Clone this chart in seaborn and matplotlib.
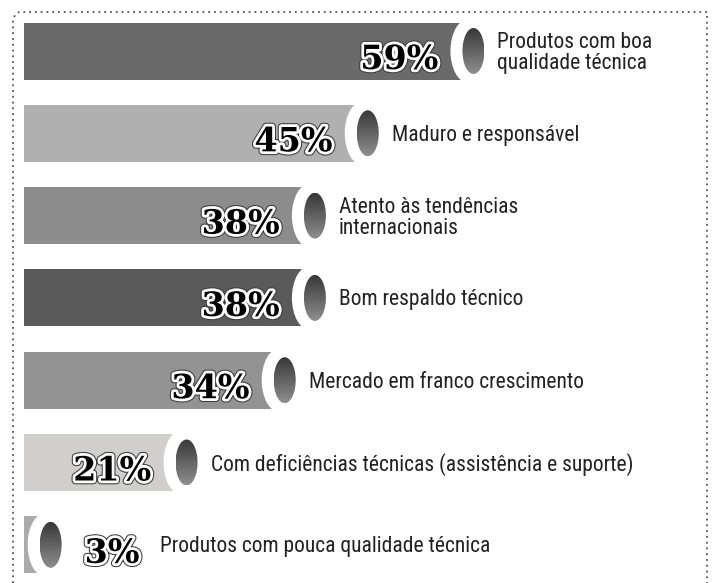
import matplotlib
matplotlib.use('Agg')
import matplotlib.pyplot as plt
import matplotlib.patheffects as pe
from matplotlib.patches import Ellipse
import seaborn as sns
import numpy as np

sns.set_theme(style='white')
plt.rcParams['font.family'] = ['Roboto Condensed', 'Liberation Sans', 'DejaVu Sans']

labels = ['Produtos com boa\nqualidade técnica',
          'Maduro e responsável',
          'Atento às tendências\ninternacionais',
          'Bom respaldo técnico',
          'Mercado em franco crescimento',
          'Com deficiências técnicas (assistência e suporte)',
          'Produtos com pouca qualidade técnica']
values = [59, 45, 38, 38, 34, 21, 3]
bar_colors = ['#6a6a6a', '#b0b0b0', '#8c8c8c', '#5a5a5a', '#939393', '#d0cfcd', '#ababab']

# pixel scale of the layout (715x583 figure)
PX_X = 7.55   # px per percent
PX_Y = 82.3   # px per row
X0 = 24       # px where 0% sits
Y0 = 51       # px of first row centre

fig = plt.figure(figsize=(7.15, 5.83), dpi=100)
ax = fig.add_axes([0, 0, 1, 1])

sns.barplot(x=values, y=list(range(len(values))), hue=list(range(len(values))),
            palette=bar_colors, orient='h', width=57 / PX_Y, legend=False,
            saturation=1, ax=ax, linewidth=0)

# gradient for the end caps
grad = np.linspace(0, 1, 64).reshape(-1, 1)
cap_cmap = matplotlib.colors.LinearSegmentedColormap.from_list('cap', ['#383838', '#8e8e8e'])

outline = [pe.Stroke(linewidth=5.5, foreground='#3c3c3c'),
           pe.Stroke(linewidth=4, foreground='white'),
           pe.Normal()]

for i, (v, lab) in enumerate(zip(values, labels)):
    # white ring
    ring = Ellipse((v - 1 / PX_X, i), 36 / PX_X, 64 / PX_Y, facecolor='white',
                   edgecolor='none', zorder=3)
    ax.add_patch(ring)
    # dark inner cap with vertical gradient
    cx = v + 4 / PX_X
    w, h = 22 / PX_X, 46 / PX_Y
    inner = Ellipse((cx, i), w, h, facecolor='none', edgecolor='none', zorder=4)
    ax.add_patch(inner)
    im = ax.imshow(grad, cmap=cap_cmap, aspect='auto', zorder=4,
                   extent=(cx - w / 2, cx + w / 2, i + h / 2, i - h / 2))
    im.set_clip_path(inner)

    if v >= 10:
        ax.text(v - 31 / PX_X, i + 18 / PX_Y, f'{v}%', ha='right', va='baseline',
                fontsize=24, fontweight='bold', family='DejaVu Serif', color='black',
                path_effects=outline, zorder=5)
        ax.text(v + 28 / PX_X, i + 2 / PX_Y, lab, ha='left', va='center', fontsize=15.5,
                color='#222222', linespacing=1.0, zorder=5)
    else:
        ax.text(v + 38 / PX_X, i + 18 / PX_Y, f'{v}%', ha='left', va='baseline',
                fontsize=24, fontweight='bold', family='DejaVu Serif', color='black',
                path_effects=outline, zorder=5)
        ax.text(v + 113 / PX_X, i + 2 / PX_Y, lab, ha='left', va='center', fontsize=15.5,
                color='#222222', zorder=5)

ax.set_xlim(-X0 / PX_X, (715 - X0) / PX_X)
ax.set_ylim((583 - Y0) / PX_Y, -Y0 / PX_Y)
ax.axis('off')

# dotted frame (left, top, right)
fx = np.array([13, 13, 15, 19, 707, 707]) / 715
fy = 1 - np.array([583, 20, 15, 12, 12, 583]) / 583
ax.plot(fx, fy, transform=ax.transAxes, color='#555555', lw=1.3,
        linestyle=(0, (1, 2.2)), clip_on=False, zorder=6)

fig.savefig('out.png', dpi=100)
